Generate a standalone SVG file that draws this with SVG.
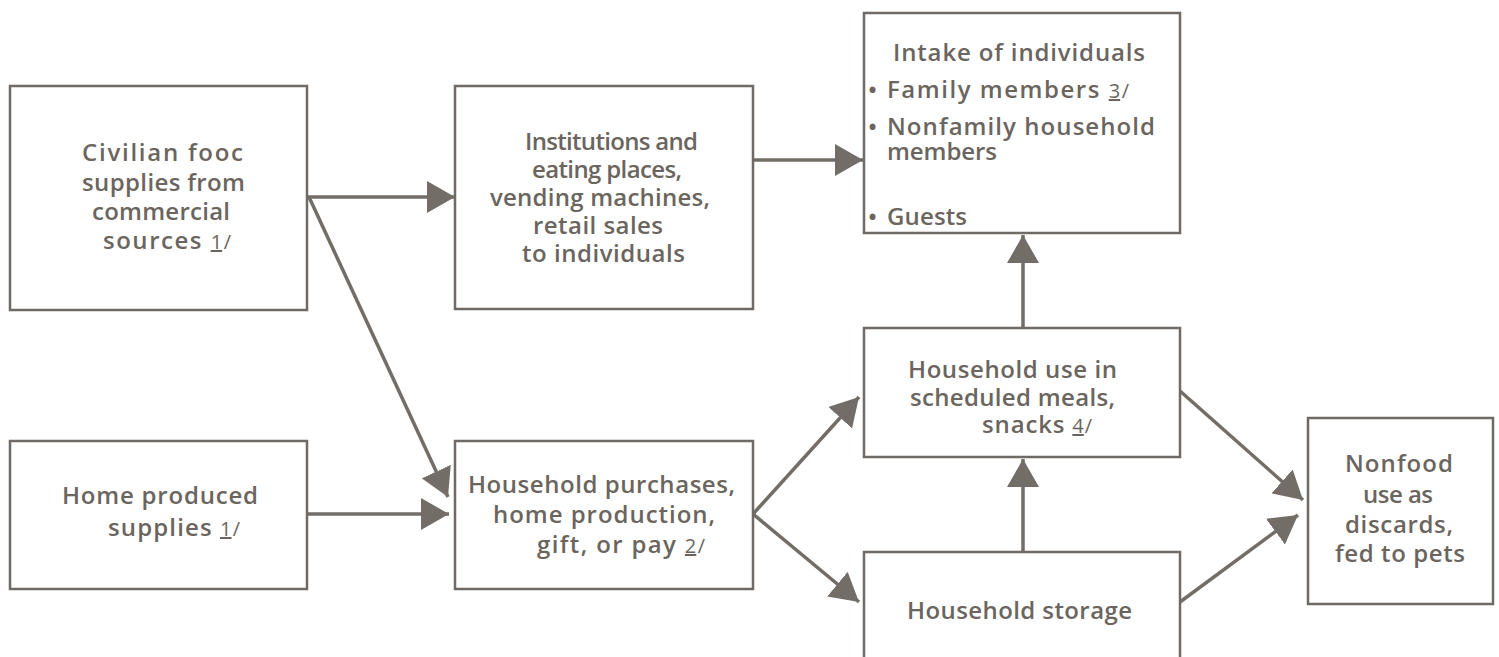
<svg xmlns="http://www.w3.org/2000/svg" width="1499" height="657" viewBox="0 0 1499 657">
<style>
  .box { fill: none; stroke: #6f6a65; stroke-width: 2.5; }
  .t { font-family: "Open Sans", "Liberation Sans", sans-serif; font-size: 24px; font-weight: 600; fill: #6b6560; }
  .fn { font-size: 20px; font-weight: 400; }
  .u { text-decoration: underline; }
  .con { stroke: #736d68; stroke-width: 3.5; fill: none; marker-end: url(#ah); }
</style>
<defs>
  <marker id="ah" markerUnits="userSpaceOnUse" viewBox="0 0 28 32" refX="28" refY="16" markerWidth="28" markerHeight="32" orient="auto">
    <path d="M0,0 L28,16 L0,32 z" fill="#736d68"/>
  </marker>
</defs>
<rect x="0" y="0" width="1499" height="657" fill="#ffffff"/>

<g id="connectors">
  <line class="con" x1="307" y1="197" x2="455" y2="197"/>
  <line class="con" x1="309" y1="197" x2="448" y2="497"/>
  <line class="con" x1="307" y1="514" x2="449" y2="514"/>
  <line class="con" x1="753" y1="160" x2="863" y2="160"/>
  <line class="con" x1="753" y1="514" x2="859" y2="397"/>
  <line class="con" x1="753" y1="514" x2="859" y2="602"/>
  <line class="con" x1="1023" y1="552" x2="1023" y2="459"/>
  <line class="con" x1="1023" y1="328" x2="1023" y2="235"/>
  <line class="con" x1="1180" y1="391" x2="1303" y2="500"/>
  <line class="con" x1="1180" y1="602" x2="1298" y2="515"/>
</g>

<g id="civilian">
  <rect class="box" x="10" y="86" width="297" height="224"/>
  <text class="t" x="82" y="161" textLength="161">Civilian fooc</text>
  <text class="t" x="82" y="191" textLength="163">supplies from</text>
  <text class="t" x="92" y="220" textLength="138">commercial</text>
  <text class="t" x="103" y="249" textLength="128">sources <tspan class="fn u">1</tspan><tspan class="fn">/</tspan></text>
</g>

<g id="institutions">
  <rect class="box" x="455" y="86" width="298" height="223"/>
  <text class="t" x="525" y="150" textLength="173">Institutions and</text>
  <text class="t" x="532" y="178" textLength="150">eating places,</text>
  <text class="t" x="490" y="206" textLength="220">vending machines,</text>
  <text class="t" x="533" y="234" textLength="130">retail sales</text>
  <text class="t" x="522" y="262" textLength="163">to individuals</text>
</g>

<g id="intake">
  <rect class="box" x="864" y="13" width="316" height="220"/>
  <text class="t" x="893" y="61" textLength="252">Intake of individuals</text>
  <text class="t" x="868" y="98">•</text>
  <text class="t" x="887" y="98" textLength="242">Family members <tspan class="fn u">3</tspan><tspan class="fn">/</tspan></text>
  <text class="t" x="868" y="135">•</text>
  <text class="t" x="887" y="135" textLength="268">Nonfamily household</text>
  <text class="t" x="887" y="160" textLength="110">members</text>
  <text class="t" x="868" y="225">•</text>
  <text class="t" x="887" y="225" textLength="80">Guests</text>
</g>

<g id="home-produced">
  <rect class="box" x="10" y="441" width="297" height="148"/>
  <text class="t" x="62" y="504" textLength="196">Home produced</text>
  <text class="t" x="108" y="536" textLength="132">supplies <tspan class="fn u">1</tspan><tspan class="fn">/</tspan></text>
</g>

<g id="household-purchases">
  <rect class="box" x="455" y="441" width="298" height="148"/>
  <text class="t" x="468" y="493" textLength="267">Household purchases,</text>
  <text class="t" x="493" y="523" textLength="222">home production,</text>
  <text class="t" x="537" y="553" textLength="168">gift, or pay <tspan class="fn u">2</tspan><tspan class="fn">/</tspan></text>
</g>

<g id="household-use">
  <rect class="box" x="864" y="328" width="316" height="129"/>
  <text class="t" x="908" y="378" textLength="209">Household use in</text>
  <text class="t" x="910" y="406" textLength="205">scheduled meals,</text>
  <text class="t" x="982" y="433" textLength="110">snacks <tspan class="fn u">4</tspan><tspan class="fn">/</tspan></text>
</g>

<g id="household-storage">
  <rect class="box" x="864" y="552" width="316" height="120"/>
  <text class="t" x="907" y="619" textLength="225">Household storage</text>
</g>

<g id="nonfood">
  <rect class="box" x="1308" y="418" width="185" height="186"/>
  <text class="t" x="1345" y="472" textLength="108">Nonfood</text>
  <text class="t" x="1363" y="503" textLength="70">use as</text>
  <text class="t" x="1345" y="533" textLength="108">discards,</text>
  <text class="t" x="1335" y="562" textLength="130">fed to pets</text>
</g>
</svg>
